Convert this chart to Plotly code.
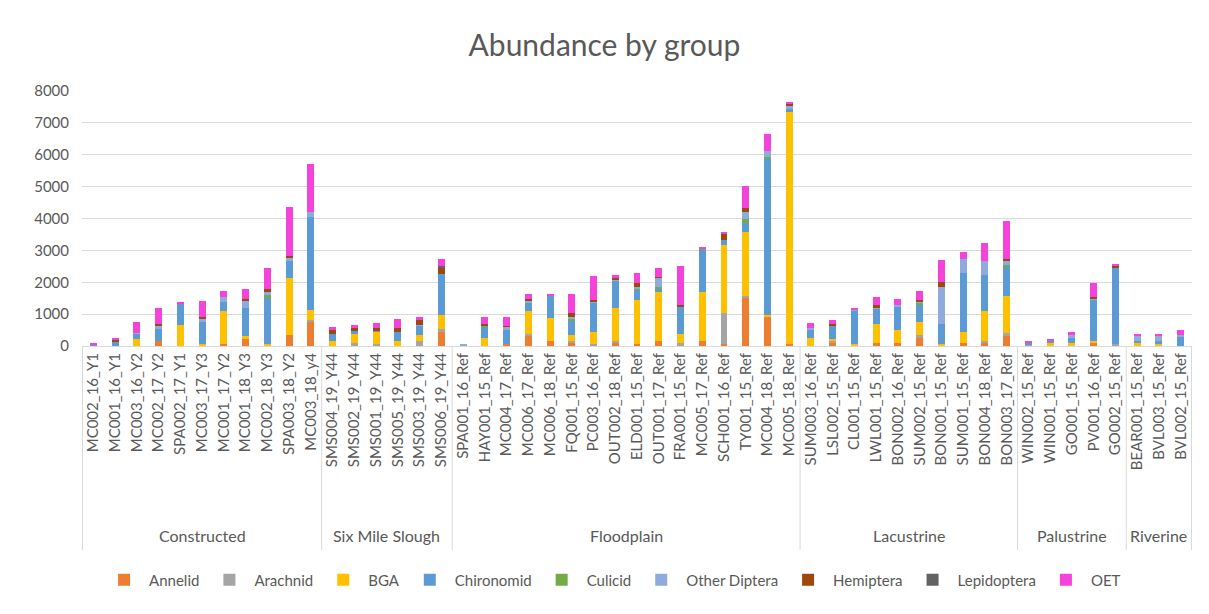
import plotly.graph_objects as go

groups = (["Constructed"] * 11 + ["Six Mile Slough"] * 6 + ["Floodplain"] * 16
          + ["Lacustrine"] * 10 + ["Palustrine"] * 5 + ["Riverine"] * 3)

sites = [
    "MC002_16_Y1", "MC001_16_Y1", "MC003_16_Y2", "MC002_17_Y2", "SPA002_17_Y1",
    "MC003_17_Y3", "MC001_17_Y2", "MC001_18_Y3", "MC002_18_Y3", "SPA003_18_Y2", "MC003_18_y4",
    "SMS004_19_Y44", "SMS002_19_Y44", "SMS001_19_Y44", "SMS005_19_Y44", "SMS003_19_Y44", "SMS006_19_Y44",
    "SPA001_16_Ref", "HAY001_15_Ref", "MC004_17_Ref", "MC006_17_Ref", "MC006_18_Ref", "FQ001_15_Ref",
    "PC003_16_Ref", "OUT002_18_Ref", "ELD001_15_Ref", "OUT001_17_Ref", "FRA001_15_Ref", "MC005_17_Ref",
    "SCH001_16_Ref", "TY001_15_Ref", "MC004_18_Ref", "MC005_18_Ref",
    "SUM003_16_Ref", "LSL002_15_Ref", "CL001_15_Ref", "LWL001_15_Ref", "BON002_16_Ref",
    "SUM002_15_Ref", "BON001_15_Ref", "SUM001_15_Ref", "BON004_18_Ref", "BON003_17_Ref",
    "WIN002_15_Ref", "WIN001_15_Ref", "GO001_15_Ref", "PV001_16_Ref", "GO002_15_Ref",
    "BEAR001_15_Ref", "BVL003_15_Ref", "BVL002_15_Ref",
]

annelid = [0, 0, 0, 160, 0, 0, 50, 210, 0, 330, 760,
           0, 0, 0, 0, 0, 440,
           0, 0, 50, 330, 160, 100, 0, 100, 50, 160, 0, 160, 50, 1530, 910, 50,
           0, 100, 0, 100, 100, 280, 0, 100, 100, 310,
           0, 0, 0, 100, 0,
           0, 0, 0]
arachnid = [0, 0, 0, 0, 0, 0, 0, 0, 0, 0, 70,
            0, 100, 50, 0, 160, 100,
            0, 0, 0, 50, 0, 50, 50, 50, 0, 0, 100, 0, 990, 50, 0, 0,
            0, 50, 0, 0, 0, 50, 0, 0, 50, 100,
            50, 0, 0, 0, 50,
            0, 0, 0]
bga = [0, 0, 210, 0, 660, 50, 1040, 100, 50, 1800, 310,
       160, 280, 400, 160, 180, 430,
       0, 260, 0, 710, 710, 180, 390, 1040, 1380, 1530, 280, 1540, 2140, 2010, 50, 7300,
       260, 70, 50, 600, 390, 430, 50, 330, 940, 1170,
       0, 100, 100, 50, 0,
       100, 50, 0]
chironomid = [60, 150, 190, 385, 670, 710, 280, 890, 1480, 540, 2900,
              210, 80, 50, 280, 290, 1300,
              0, 340, 450, 280, 720, 480, 920, 855, 340, 100, 830, 1320, 160, 280, 4910, 100,
              260, 420, 1060, 470, 760, 520, 650, 1860, 1150, 900,
              50, 50, 160, 1300, 2400,
              50, 100, 290]
culicid = [0, 0, 0, 0, 0, 0, 0, 0, 60, 0, 0,
           0, 0, 0, 0, 0, 0,
           0, 40, 0, 0, 0, 50, 0, 0, 30, 50, 0, 50, 0, 115, 50, 0,
           0, 0, 0, 0, 0, 70, 0, 0, 0, 50,
           0, 0, 0, 0, 0,
           0, 0, 0]
other_diptera = [0, 0, 20, 100, 0, 100, 160, 230, 100, 115, 160,
                 0, 0, 0, 0, 30, 0,
                 50, 0, 100, 50, 0, 50, 50, 30, 50, 320, 0, 0, 0, 230, 210, 70,
                 30, 0, 50, 20, 50, 50, 1160, 440, 440, 125,
                 0, 0, 100, 30, 20,
                 160, 160, 40]
hemiptera = [0, 50, 0, 60, 0, 60, 0, 60, 100, 50, 0,
             125, 125, 50, 115, 160, 180,
             0, 50, 40, 60, 0, 125, 20, 50, 125, 20, 80, 0, 180, 100, 0, 80,
             0, 50, 0, 100, 0, 50, 160, 0, 0, 70,
             0, 0, 0, 50, 60,
             0, 0, 0]
lepidoptera = [0, 0, 0, 0, 0, 0, 0, 0, 0, 0, 0,
               0, 0, 0, 0, 0, 50,
               0, 0, 0, 0, 0, 0, 0, 0, 0, 0, 0, 0, 0, 0, 0, 0,
               0, 0, 0, 0, 0, 0, 0, 0, 0, 0,
               0, 0, 0, 0, 0,
               0, 0, 0]
oet = [40, 60, 340, 490, 50, 500, 180, 310, 660, 1530, 1500,
       100, 60, 160, 280, 100, 230,
       0, 220, 270, 150, 50, 590, 760, 100, 330, 280, 1220, 50, 50, 720, 510, 70,
       160, 140, 30, 240, 180, 290, 670, 220, 550, 1210,
       50, 70, 70, 440, 50,
       70, 70, 170]

series = [
    ("Annelid", annelid, "#ED7D31"),
    ("Arachnid", arachnid, "#A5A5A5"),
    ("BGA", bga, "#FFC000"),
    ("Chironomid", chironomid, "#5B9BD5"),
    ("Culicid", culicid, "#70AD47"),
    ("Other Diptera", other_diptera, "#8FAADC"),
    ("Hemiptera", hemiptera, "#9E480E"),
    ("Lepidoptera", lepidoptera, "#636363"),
    ("OET", oet, "#F542DA"),
]

grey_text = "#595959"
line_col = "#D9D9D9"

fig = go.Figure()
for name, vals, color in series:
    fig.add_trace(go.Bar(
        x=sites, y=vals, name=name,
        marker=dict(color=color, line=dict(width=0)),
    ))

# group labels and divider lines under the category labels (Excel style)
group_order = []
for g in groups:
    if g not in group_order:
        group_order.append(g)

start = 0
boundaries = [-0.5]
for g in group_order:
    n = groups.count(g)
    fig.add_annotation(
        x=start + (n - 1) / 2, xref="x", y=-0.745, yref="paper",
        text=g, showarrow=False, yanchor="middle",
        font=dict(size=16, color=grey_text),
    )
    start += n
    boundaries.append(start - 0.5)

for b in boundaries:
    fig.add_shape(type="line", xref="x", yref="paper", x0=b, x1=b, y0=0, y1=-0.8,
                  line=dict(color=line_col, width=1))

fig.update_layout(
    barmode="stack",
    bargap=0.68,
    width=1193,
    height=598,
    paper_bgcolor="white",
    plot_bgcolor="white",
    font=dict(family="Lato, Noto Sans, sans-serif", size=15, color=grey_text),
    title=dict(text="Abundance by group", x=0.5, xanchor="center", y=0.938,
               yanchor="middle", font=dict(size=30, color=grey_text)),
    margin=dict(l=74, r=9, t=83, b=260),
    legend=dict(orientation="h", x=0.478, xanchor="center", y=-0.918, yanchor="middle",
                font=dict(size=15, color=grey_text), itemwidth=40,
                traceorder="normal"),
    showlegend=True,
)
fig.update_xaxes(
    type="category",
    tickangle=-90,
    showline=True,
    linecolor=line_col,
    showgrid=False,
    ticks="",
    tickfont=dict(size=15, color=grey_text),
    automargin=False,
)
fig.update_yaxes(
    range=[0, 8000],
    dtick=1000,
    showgrid=True,
    gridcolor=line_col,
    gridwidth=1,
    zeroline=False,
    showline=False,
    tickfont=dict(size=15, color=grey_text),
    ticklabelstandoff=12,
    automargin=False,
)

fig.write_html("out.html")
